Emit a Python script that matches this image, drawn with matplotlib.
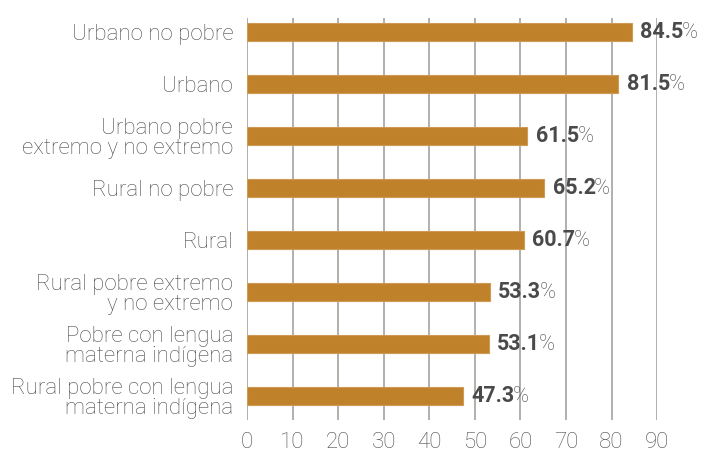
import matplotlib
matplotlib.use("Agg")
import matplotlib.pyplot as plt

categories = [
    "Urbano no pobre",
    "Urbano",
    "Urbano pobre\nextremo y no extremo",
    "Rural no pobre",
    "Rural",
    "Rural pobre extremo\ny no extremo",
    "Pobre con lengua\nmaterna indígena",
    "Rural pobre con lengua\nmaterna indígena",
]
values = [84.5, 81.5, 61.5, 65.2, 60.7, 53.3, 53.1, 47.3]
xticks = [0, 10, 20, 30, 40, 50, 60, 70, 80, 90]

bar_color = "#C0812B"
text_color = "#4d4d4d"
value_color = "#4a4a4a"

plt.rcParams["font.family"] = ["Roboto", "DejaVu Sans"]

fig = plt.figure(figsize=(7.12, 4.54), dpi=100)
ax = fig.add_axes([0.347, 0.075, 0.576, 0.885])

pos = list(range(len(categories)))
ax.barh(pos, values, height=0.35, color=bar_color, edgecolor="#cf9a55",
        linewidth=0.8, zorder=3)

ax.set_xlim(0, 90)
ax.set_ylim(len(categories) - 0.54, -0.27)
ax.set_xticks(xticks)
ax.set_yticks(pos)
ax.set_yticklabels(categories, fontsize=16, color=text_color,
                   fontweight="light", linespacing=0.95)
ax.tick_params(axis="x", labelsize=16, labelcolor=text_color, length=0, pad=9)
ax.tick_params(axis="y", length=0, pad=10)
for lab in ax.get_xticklabels():
    lab.set_fontweight("light")

ax.grid(axis="x", color="#a3a39c", linewidth=1.2, zorder=0)
for s in ax.spines.values():
    s.set_visible(False)

# value labels: bold number followed by a lighter % sign
nums = []
for y, v in zip(pos, values):
    t = ax.annotate(f"{v:.1f}", xy=(v, y), xytext=(6, 0),
                    textcoords="offset points", fontsize=15.5,
                    fontweight="bold", color=value_color, va="center",
                    ha="left", annotation_clip=False, zorder=4)
    nums.append(t)

fig.canvas.draw()
renderer = fig.canvas.get_renderer()
for t, y in zip(nums, pos):
    bb = t.get_window_extent(renderer=renderer)
    ypix = ax.transData.transform((0, y))[1]
    fig.text((bb.x1 - 1.5) / fig.bbox.width, ypix / fig.bbox.height, "%",
             fontsize=15.5, fontweight="light", color=value_color,
             va="center", ha="left")

fig.savefig("out.png", dpi=100)
